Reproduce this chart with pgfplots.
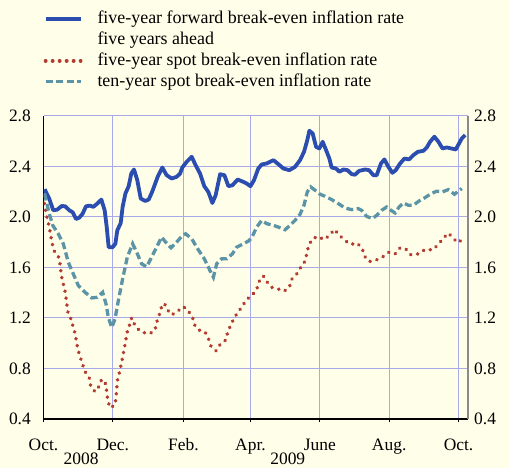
\documentclass[border=0pt]{standalone}
\usepackage{fontspec}
\setmainfont{Liberation Serif}
\usepackage{pgfplots}
\pgfplotsset{compat=1.18}
\definecolor{bgcream}{HTML}{FFFEE9}
\definecolor{fwdblue}{HTML}{2B4DAF}
\definecolor{spotred}{HTML}{B33A2F}
\definecolor{tenteal}{HTML}{5B94A6}
\definecolor{gridlav}{HTML}{A7A9E8}
\definecolor{rightgray}{HTML}{8A8A8A}

% x = days since 1 Oct 2008
\pgfplotsset{
  /pgf/number format/assume math mode=true,
  brk/.style={
    at={(43.5bp,49bp)}, anchor=south west,
    scale only axis, width=424.8bp, height=303bp,
    xmin=0, xmax=373.6, ymin=0.4, ymax=2.8,
    enlargelimits=false,
    ytick={0.4,0.8,1.2,1.6,2.0,2.4,2.8},
    ytick style={draw=none},
    yticklabel style={/pgf/number format/fixed, /pgf/number format/fixed zerofill,
      /pgf/number format/precision=1},
    tick label style={font=\fontsize{17.5}{20}\selectfont},
  },
}

\begin{document}
\begin{tikzpicture}[x=1bp,y=1bp]
\fill[bgcream] (0,0) rectangle (509,468);

\begin{axis}[
  brk,
  clip mode=individual,
  axis x line*=bottom, axis y line*=left,
  axis line style={-, black, line width=1.2bp},
  xtick={0,61,123,182,243,304,365},
  xticklabels={Oct.,Dec.,Feb.,Apr.,June,Aug.,Oct.},
  xticklabel style={anchor=base, yshift=-28.3bp},
  yticklabel style={anchor=east, inner sep=0pt, xshift=-9bp},
  tick align=outside,
  xtick style={black, line width=1bp},
  major tick length=3.5bp,
  grid=major,
  grid style={gridlav, line width=1bp},
  legend image code/.code={\draw[#1] (0bp,0bp) -- (35bp,0bp);},
  legend cell align=left,
  legend style={draw=none, fill=none, at={(0,1.348)}, anchor=north west,
    inner sep=0pt, row sep=5bp, column sep=15bp,
    font=\fontsize{18}{21}\selectfont,
    nodes={inner sep=0pt, text height=13bp, text depth=3bp}},
]
\addplot[fwdblue, line width=3.8bp, line join=round] coordinates {
(1,2.22)(5,2.146)(8.6,2.053)(12,2.058)(16,2.087)(19,2.085)(22.7,2.053)(25.7,2.037)
(28.6,1.984)(31.5,1.995)(34.4,2.026)(37.4,2.085)(40.9,2.09)(43.8,2.08)(47.3,2.106)
(50.9,2.138)(53.8,2.053)(55.6,1.92)(57.3,1.761)(60.8,1.761)(63.2,1.788)(64.9,1.894)
(67.9,1.952)(69.6,2.08)(72,2.185)(74.9,2.244)(77.2,2.344)(79.6,2.376)(82.5,2.291)
(85.5,2.146)(89.5,2.127)(92.5,2.138)(95.5,2.198)(100.4,2.318)(104.5,2.392)(108.3,2.331)
(112.7,2.305)(117.1,2.318)(120.1,2.344)(122.1,2.392)(125.9,2.437)(130.3,2.477)(133.8,2.41)
(137.7,2.344)(141.4,2.244)(145,2.198)(148.5,2.111)(151.4,2.172)(155.3,2.339)(159.1,2.331)
(162.6,2.244)(166.1,2.251)(170.8,2.297)(175.8,2.278)(178.7,2.265)(182,2.244)(185.1,2.291)
(188.9,2.384)(191.9,2.416)(196.3,2.424)(202.2,2.45)(206.6,2.418)(211,2.384)(216.2,2.371)
(221.2,2.397)(225.6,2.45)(229.1,2.516)(232,2.609)(233.8,2.683)(236.7,2.662)(239.7,2.556)
(242.6,2.543)(245.5,2.596)(248.5,2.53)(251.4,2.463)(253.4,2.392)(257.3,2.384)(260.2,2.358)
(263.7,2.376)(267.3,2.371)(271.1,2.339)(274,2.335)(277.5,2.365)(282.8,2.376)(286.3,2.371)
(290.1,2.331)(293,2.331)(296.8,2.424)(299.8,2.456)(303.3,2.397)(306.8,2.35)(309.8,2.371)
(313.6,2.424)(317.4,2.463)(321.5,2.456)(325.3,2.49)(329.2,2.516)(334.1,2.524)(337.1,2.551)
(340,2.596)(343.8,2.636)(347.3,2.596)(350.9,2.543)(354.7,2.551)(358.5,2.543)(362.6,2.535)
(365.5,2.583)(367.9,2.622)(370.8,2.649)
};
\addlegendentry{five-year forward break-even inflation rate}
\addlegendimage{empty legend}
\addlegendentry{five years ahead}

\addplot[spotred, line width=3.8bp, line cap=round, dash pattern=on 0.1bp off 6.9bp] coordinates {
(0.7,2.108)(2,2.04)(5.1,1.92)(6.3,1.854)(7.7,1.788)(9.5,1.729)(13,1.69)(14.5,1.629)
(15.4,1.562)(16.5,1.496)(18.3,1.443)(19.5,1.383)(21.3,1.252)(23.9,1.197)(27.7,1.08)
(30.1,0.958)(32.1,0.895)(36.5,0.775)(40.3,0.723)(41.5,0.662)(45.3,0.616)(48.5,0.654)
(51.2,0.715)(55,0.675)(55.6,0.616)(56.5,0.548)(58.5,0.489)(62.9,0.511)(63.8,0.574)
(64.4,0.635)(64.9,0.701)(66.7,0.765)(68.2,0.829)(69.6,0.887)(70.8,0.95)(72.3,1.014)
(73.2,1.077)(75.5,1.139)(77.5,1.2)(79,1.165)(82.5,1.117)(87.2,1.085)(93.7,1.077)
(98.1,1.104)(99.5,1.165)(101.9,1.226)(103.9,1.29)(106.3,1.316)(109.2,1.263)(112.7,1.224)
(117.7,1.252)(123,1.29)(127.7,1.252)(131.2,1.2)(133.2,1.139)(137,1.104)(142,1.091)
(145,1.038)(147.3,0.977)(151.7,0.94)(155.2,0.988)(160.2,1.025)(162,1.085)(164.6,1.144)
(167.8,1.2)(170.8,1.245)(174.8,1.29)(178.1,1.343)(183.1,1.377)(187.5,1.425)(189.5,1.488)
(193.3,1.533)(196.8,1.483)(200.7,1.443)(207.1,1.427)(211.5,1.412)(216.2,1.443)(218.3,1.507)
(222.7,1.549)(226.2,1.602)(230,1.65)(231.5,1.708)(233.2,1.775)(236.8,1.83)(241.7,1.846)
(246.7,1.82)(252,1.859)(255.8,1.902)(259.9,1.859)(264.6,1.817)(270.1,1.783)(276,1.793)
(280.4,1.748)(282.2,1.69)(286.6,1.647)(293,1.661)(299.5,1.69)(303.9,1.722)(309.2,1.708)
(313.6,1.756)(318.5,1.748)(323.2,1.7)(329.7,1.708)(335.6,1.743)(342.3,1.74)(347.3,1.783)
(351.7,1.833)(356.1,1.873)(359.9,1.835)(364.3,1.796)(370.2,1.833)
};
\addlegendentry{five-year spot break-even inflation rate}

\addplot[tenteal, line width=3.3bp, dash pattern=on 7bp off 3.5bp] coordinates {
(1,2.185)(4.3,2.053)(8.1,1.934)(13,1.867)(17.4,1.788)(21.8,1.642)(26.2,1.549)(30.6,1.457)
(36.5,1.404)(42.4,1.359)(47.3,1.364)(52,1.404)(55,1.311)(57,1.205)(60,1.125)(62.9,1.192)
(65.8,1.337)(69.6,1.51)(73.7,1.682)(78.4,1.788)(81.9,1.722)(86.3,1.629)(90.7,1.605)
(95.1,1.682)(99.5,1.761)(103.9,1.841)(107.4,1.801)(112.1,1.756)(117.1,1.801)(121.5,1.846)
(125,1.867)(130.3,1.828)(135.6,1.748)(141.4,1.669)(146.4,1.576)(149.4,1.523)(152.3,1.629)
(156.7,1.669)(161.1,1.669)(166.1,1.708)(169.9,1.761)(175.8,1.788)(180.2,1.809)(183.1,1.835)
(187.5,1.92)(191.9,1.973)(196.3,1.947)(202.2,1.934)(208,1.915)(212.4,1.899)(216.8,1.934)
(221.2,1.973)(225.6,2.021)(229.1,2.093)(232,2.199)(235,2.238)(238.8,2.212)(243.2,2.18)
(247.6,2.164)(253.4,2.138)(259.3,2.106)(265.2,2.071)(271.1,2.058)(276.9,2.066)(279.8,2.053)
(284.2,2.005)(289.2,1.987)(293,2.013)(297.4,2.053)(301.8,2.079)(305.6,2.053)(309.2,2.032)
(312.7,2.079)(316.5,2.111)(320.9,2.093)(325.3,2.093)(330.3,2.127)(335.5,2.153)(340.8,2.185)
(345.8,2.204)(350.9,2.199)(356.1,2.217)(361.4,2.18)(364.9,2.206)(367.9,2.225)
};
\addlegendentry{ten-year spot break-even inflation rate}

\node[anchor=base, font=\fontsize{17.5}{20}\selectfont] at (rel axis cs:0.0887,0) [yshift=-45bp] {2008};
\node[anchor=base, font=\fontsize{17.5}{20}\selectfont] at (rel axis cs:0.575,0) [yshift=-45bp] {2009};
\end{axis}

\begin{axis}[
  brk,
  axis x line=none, axis y line*=right,
  axis line style={-, rightgray, line width=1.8bp},
  yticklabel style={anchor=west, inner sep=0pt, xshift=5.7bp},
]
\end{axis}

\pgfresetboundingbox
\path (0,0) rectangle (509,468);
\end{tikzpicture}
\end{document}
